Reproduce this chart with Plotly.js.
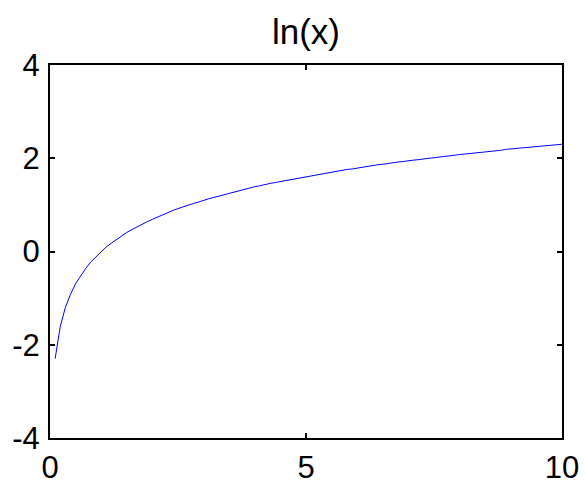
<!DOCTYPE html>
<html>
<head>
<meta charset="utf-8">
<script src="https://cdn.plot.ly/plotly-3.0.1.min.js"></script>
<style>html,body{margin:0;padding:0;background:#fff;}#chart{width:586px;height:485px;}</style>
</head>
<body>
<div id="chart"></div>
<script>
var xValues = [0.1,0.2,0.3,0.4,0.5,0.6,0.7,0.8,0.9,1.0,
  1.1,1.2,1.3,1.4,1.5,1.6,1.7,1.8,1.9,2.0,
  2.1,2.2,2.3,2.4,2.5,2.6,2.7,2.8,2.9,3.0,
  3.1,3.2,3.3,3.4,3.5,3.6,3.7,3.8,3.9,4.0,
  4.1,4.2,4.3,4.4,4.5,4.6,4.7,4.8,4.9,5.0,
  5.1,5.2,5.3,5.4,5.5,5.6,5.7,5.8,5.9,6.0,
  6.1,6.2,6.3,6.4,6.5,6.6,6.7,6.8,6.9,7.0,
  7.1,7.2,7.3,7.4,7.5,7.6,7.7,7.8,7.9,8.0,
  8.1,8.2,8.3,8.4,8.5,8.6,8.7,8.8,8.9,9.0,
  9.1,9.2,9.3,9.4,9.5,9.6,9.7,9.8,9.9,10.0];
var yValues = [-2.30,-1.61,-1.20,-0.92,-0.69,-0.51,-0.36,-0.22,-0.11,0.00,
  0.10,0.18,0.26,0.34,0.41,0.47,0.53,0.59,0.64,0.69,
  0.74,0.79,0.83,0.88,0.92,0.96,0.99,1.03,1.06,1.10,
  1.13,1.16,1.19,1.22,1.25,1.28,1.31,1.34,1.36,1.39,
  1.41,1.44,1.46,1.48,1.50,1.53,1.55,1.57,1.59,1.61,
  1.63,1.65,1.67,1.69,1.70,1.72,1.74,1.76,1.77,1.79,
  1.81,1.82,1.84,1.86,1.87,1.89,1.90,1.92,1.93,1.95,
  1.96,1.97,1.99,2.00,2.01,2.03,2.04,2.05,2.07,2.08,
  2.09,2.10,2.12,2.13,2.14,2.15,2.16,2.17,2.19,2.20,
  2.21,2.22,2.23,2.24,2.25,2.26,2.27,2.28,2.29,2.30];
var xTicks = [0, 5, 10];
var yTicks = [-4, -2, 0, 2, 4];
var titleText = "ln(x)";

var trace = {
  x: xValues, y: yValues, type: 'scatter', mode: 'lines',
  line: {color: '#0000ff', width: 1}, hoverinfo: 'skip'
};
var axisCommon = {
  showline: true, linecolor: '#000', linewidth: 2, mirror: 'ticks',
  ticks: 'inside', ticklen: 5, tickwidth: 2, tickcolor: '#000',
  showgrid: false, zeroline: false,
  tickfont: {family: 'Liberation Sans, Arial, sans-serif', size: 31, color: '#000'}
};
var layout = {
  width: 586, height: 485,
  margin: {l: 50, r: 24, t: 65, b: 47, pad: 0},
  paper_bgcolor: '#fff', plot_bgcolor: '#fff',
  showlegend: false,
  title: {text: titleText, x: 0.5, xref: 'paper', y: 1 - 32/485, yref: 'container', yanchor: 'middle',
    font: {family: 'Liberation Sans, Arial, sans-serif', size: 35, color: '#000'}},
  xaxis: Object.assign({}, axisCommon, {range: [0, 10], tickvals: xTicks, ticktext: xTicks.map(String), ticklabelstandoff: 1}),
  yaxis: Object.assign({}, axisCommon, {range: [-4, 4], tickvals: yTicks, ticktext: yTicks.map(String), ticklabelstandoff: 2})
};
Plotly.newPlot('chart', [trace], layout, {staticPlot: true, displayModeBar: false});
</script>
</body>
</html>
